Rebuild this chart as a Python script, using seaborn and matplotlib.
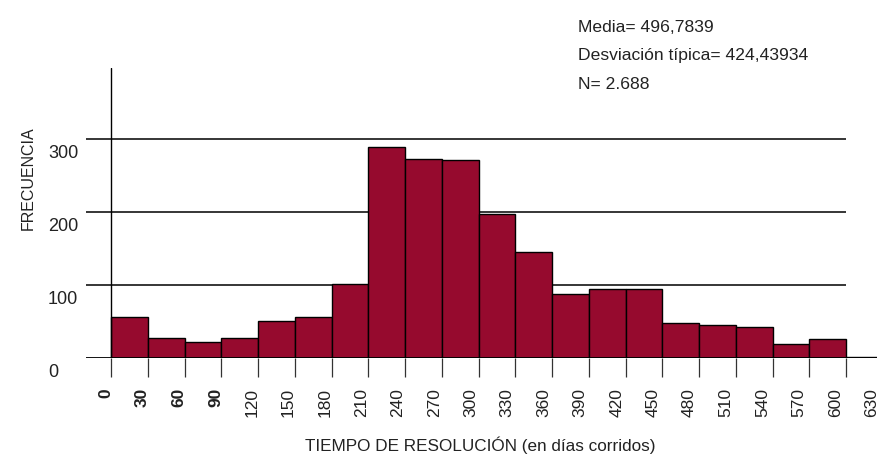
import numpy as np
import pandas as pd
import matplotlib
matplotlib.use('Agg')
import matplotlib.pyplot as plt
import matplotlib.transforms as mtransforms
import seaborn as sns

# histogram bins (days) and counts
bin_start = [0, 30, 60, 90, 120, 150, 180, 210, 240, 270, 300,
             330, 360, 390, 420, 450, 480, 510, 540, 570, 600]
frecuencia = [56, 28, 22, 28, 51, 56, 102, 290, 273, 272, 198,
              145, 88, 95, 95, 48, 46, 43, 20, 26, 2]
bin_width = 30
x_ticks = list(range(0, 631, 30))
y_ticks = [0, 100, 200, 300]
stats_lines = ['Media= 496,7839', 'Desviación típica= 424,43934', 'N= 2.688']

BAR_COLOR = '#960A2E'
W, H = 878, 454

sns.set_style('white')
plt.rcParams['font.family'] = ['Liberation Sans', 'DejaVu Sans']

df = pd.DataFrame({'inicio': bin_start, 'frecuencia': frecuencia})
df['centro'] = df['inicio'] + bin_width / 2

fig = plt.figure(figsize=(W / 100, H / 100), dpi=100)
# axes: x=-20 at px 86.5, x=630 at px 883 (past the right edge), y=0 at px 358.3
ax = fig.add_axes([86.5 / W, (H - 358.3) / H, 796.5 / W, 397 * 0.73 / H])

sns.histplot(data=df, x='centro', weights='frecuencia', binwidth=bin_width,
             binrange=(bin_start[0], bin_start[-1] + bin_width),
             color=BAR_COLOR, edgecolor='black', linewidth=1.0, alpha=1,
             ax=ax, zorder=3)

ax.set_xlim(-20, 630)
ax.set_ylim(0, 397)
for s in ax.spines.values():
    s.set_visible(False)

# gridlines stop at the last labelled edge
ax.hlines([v for v in y_ticks if v > 0], -20, 600, color='black', linewidth=1.1, zorder=1)
ax.hlines(0, -20, 600, color='black', linewidth=1.3, zorder=4)
ax.axvline(0, color='black', linewidth=1.0, zorder=4)

ax.set_xticks(x_ticks)
ax.set_xticklabels([str(v) for v in x_ticks], rotation=90)
ax.tick_params(axis='x', direction='out', length=13.5, width=0.9, color='#333333',
               pad=8, labelsize=12.5, labelcolor='#222222', bottom=True)
n_lab = len(x_ticks) - 1
for i, lab in enumerate(ax.get_xticklabels()):
    # labels sit a little left of their tick, drifting further left along the axis
    dx = -(5 + 6 * i / n_lab)
    lab.set_transform(lab.get_transform() +
                      mtransforms.ScaledTranslation(dx / 100, 0, fig.dpi_scale_trans))
    if i < 4:
        lab.set_fontweight('bold')

ax.set_yticks(y_ticks)
ax.set_yticklabels([str(v) for v in y_ticks])
ax.tick_params(axis='y', length=0, pad=0, labelsize=13, labelcolor='#222222')
shift_y = mtransforms.ScaledTranslation(-38.5 / 100, -12.5 / 100, fig.dpi_scale_trans)
for lab in ax.get_yticklabels():
    lab.set_horizontalalignment('left')
    lab.set_transform(lab.get_transform() + shift_y)

ax.set_xlabel('')
ax.set_ylabel('')

fig.text(28 / W, 1 - 178 / H, 'FRECUENCIA', rotation=90, ha='center', va='center',
         fontsize=11.5, color='#222222')
fig.text(480 / W, 1 - 445 / H, 'TIEMPO DE RESOLUCIÓN (en días corridos)',
         ha='center', va='center', fontsize=12.3, color='#222222')

for i, line in enumerate(stats_lines):
    fig.text(578 / W, 1 - (31.7 + 28.7 * i) / H, line, ha='left', va='baseline',
             fontsize=12.6, color='#222222')

fig.savefig('out.png', dpi=100, facecolor='white')
